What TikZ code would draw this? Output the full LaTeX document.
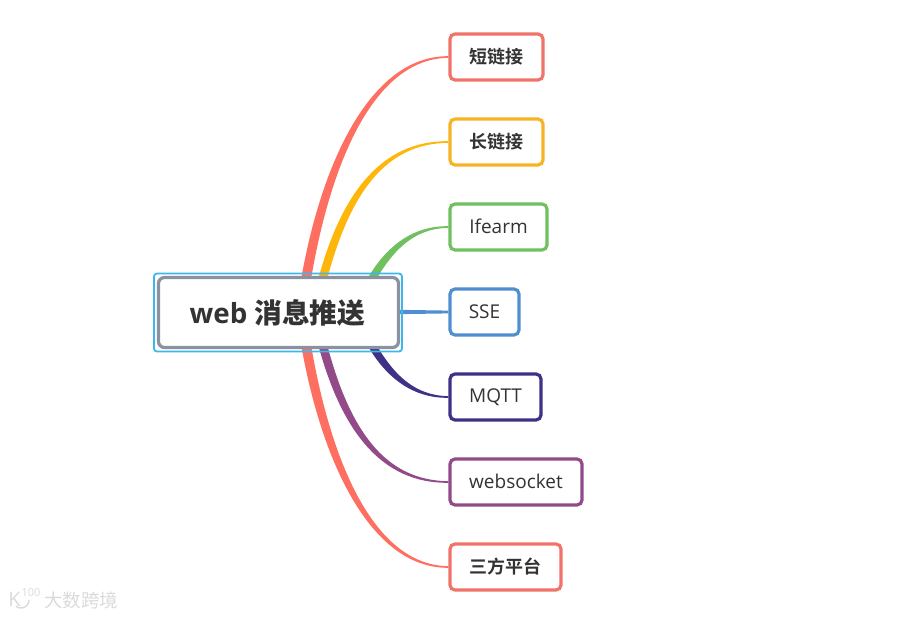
\documentclass[tikz,border=0pt]{standalone}
\usepackage{fontspec}
\setmainfont{Open Sans}
\newfontfamily\cjkb{Noto Sans CJK SC Bold}
\newfontfamily\cjkl{Noto Sans CJK SC}
\usetikzlibrary{calc}
\definecolor{cred}{HTML}{F0736A}
\definecolor{bred}{HTML}{FF6F61}
\definecolor{cyel}{HTML}{F6B325}
\definecolor{byel}{HTML}{FFB60A}
\definecolor{cgrn}{HTML}{70C05F}
\definecolor{cblu}{HTML}{4F8FD0}
\definecolor{cnav}{HTML}{3F3186}
\definecolor{cpur}{HTML}{934A88}
\definecolor{cgry}{HTML}{8A929F}
\definecolor{csel}{HTML}{3DB5EE}
\definecolor{ctxt}{HTML}{333333}
\definecolor{cwm}{HTML}{DADADA}
\tikzset{
  leafbox/.style={draw=#1,fill=white,line width=3.2pt,rounded corners=5pt,inner sep=0pt,
    minimum height=46pt,text=ctxt,font=\fontsize{19}{21}\selectfont},
  rootbox/.style={draw=cgry,fill=white,line width=3.2pt,rounded corners=6pt,inner sep=0pt,
    minimum width=240pt,minimum height=70pt,text=ctxt,font=\bfseries\fontsize{27.7}{30}\selectfont},
  selbox/.style={draw=csel,line width=1.8pt,rounded corners=3pt,inner sep=0pt,
    minimum width=248pt,minimum height=78pt},
  wm/.style={text=cwm,inner sep=0pt},
}
% colour, start x, start y, control 1, control 2, target node, half width at start, direction (+1 up, -1 down)
\newcommand{\taperline}[8]{%
  \fill[#1] ($(#2,#3)+(-#7,0)$) .. controls ($(#4)+(-#7*0.95,-#8*#7*0.4)$) and ($(#5)+(-#7*0.15,-#8*#7*0.33)$) ..
    ($(#6.west)+(0,-#8*0.8)$) -- ($(#6.west)+(0,#8*0.8)$) .. controls ($(#5)+(#7*0.15,#8*#7*0.33)$) and ($(#4)+(#7*0.95,#8*#7*0.4)$) ..
    ($(#2,#3)+(#7,0)$) -- cycle;}
\newcommand{\lat}[1]{\raisebox{1pt}{#1}}
\begin{document}
\begin{tikzpicture}[x=1pt,y=-1pt]
\useasboundingbox (0,0) rectangle (901,617);
\node[leafbox=cred,minimum width=93pt] (a) at (496.5,57) {{\cjkb\fontsize{18}{20}\selectfont 短链接}};
\node[leafbox=cyel,minimum width=93pt] (b) at (496.5,142) {{\cjkb\fontsize{18}{20}\selectfont 长链接}};
\node[leafbox=cgrn,minimum width=97pt] (c) at (498.5,227) {\lat{Ifearm}};
\node[leafbox=cblu,minimum width=69pt] (d) at (484.5,312) {\lat{SSE}};
\node[leafbox=cnav,minimum width=91pt] (e) at (495.5,397) {MQTT};
\node[leafbox=cpur,minimum width=132pt] (f) at (516,482) {\lat{websocket}};
\node[leafbox=cred,minimum width=111pt] (g) at (505.5,567) {{\cjkb\fontsize{18}{20}\selectfont 三方平台}};
\taperline{bred}{301}{312}{320,170}{370,57}{a}{5}{1}
\taperline{byel}{315}{312}{340,190}{385,142}{b}{4.5}{1}
\taperline{cgrn}{366}{290}{386,250}{412,227}{c}{4.5}{1}
\taperline{cnav}{366}{334}{386,374}{412,397}{e}{4.5}{-1}
\taperline{cpur}{315}{312}{340,434}{385,482}{f}{4.5}{-1}
\taperline{bred}{301}{312}{320,454}{370,567}{g}{5}{-1}
\fill[cblu] ($(d.west)+(-52,-2.2)$) -- ($(d.west)+(0,-1.4)$) -- ($(d.west)+(0,1.4)$) -- ($(d.west)+(-52,2.2)$) -- cycle;
\node[selbox] (sel) at (278,312.5) {};
\node[rootbox] (root) at (278.5,312.5) {\hspace{-2pt}web {\cjkb\bfseries 消息推送}};
\node[wm,font=\cjkl\fontsize{18.5}{20}\selectfont] (wa) at (81,600) {大数跨境};
\node[wm,font=\fontsize{20}{22}\selectfont] (wb) at (14.5,599) {K};
\node[wm,font=\fontsize{11}{12}\selectfont] (wc) at (31,592.5) {100};
\draw[cwm,line width=1.4pt] (29,600) arc[start angle=0,end angle=130,x radius=8pt,y radius=-8pt];
\end{tikzpicture}
\end{document}
